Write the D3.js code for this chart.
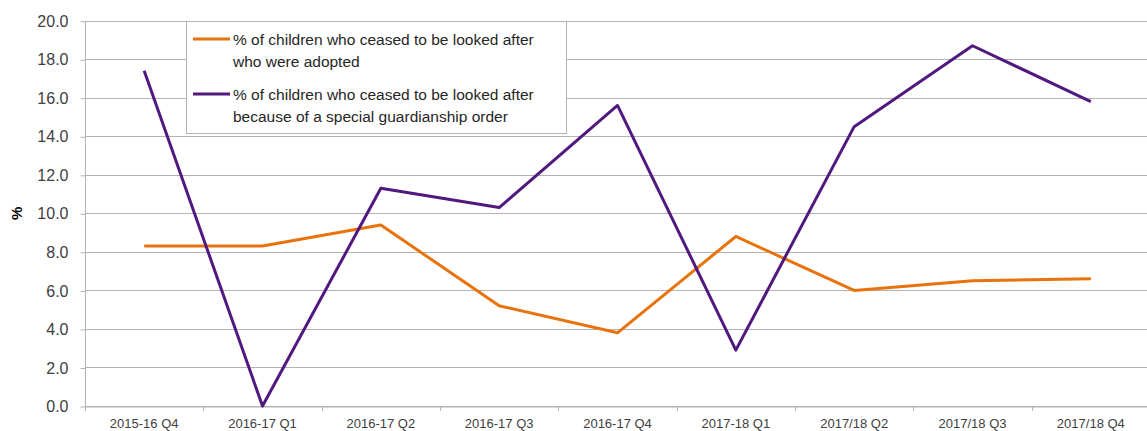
<!DOCTYPE html>
<html>
<head>
<meta charset="utf-8">
<script src="https://cdn.jsdelivr.net/npm/d3@7"></script>
<style>
  body { margin: 0; background: #fff; }
  text { font-family: "Liberation Sans", Arial, sans-serif; fill: #404040; }
</style>
</head>
<body>
<div id="chart"></div>
<script>
// quarters along the bottom
var quarters = ["2015-16 Q4", "2016-17 Q1", "2016-17 Q2", "2016-17 Q3", "2016-17 Q4",
                "2017-18 Q1", "2017/18 Q2", "2017/18 Q3", "2017/18 Q4"];

// % ceased to be looked after: adopted / special guardianship order
var adopted = [8.3, 8.3, 9.4, 5.2, 3.8, 8.8, 6.0, 6.5, 6.6];
var sgo = [17.4, 0.0, 11.3, 10.3, 15.6, 2.9, 14.5, 18.7, 15.8];

var yTicks = [0, 2, 4, 6, 8, 10, 12, 14, 16, 18, 20];

var seriesNames = ["% of children who ceased to be looked after|who were adopted",
                   "% of children who ceased to be looked after|because of a special guardianship order"];
var seriesColors = ["#e8730c", "#51197f"];

var width = 1147,
    height = 431;
// plot area edges (note: "top" is taken by window.top)
var plotLeft = 85, plotRight = 1150, plotTop = 20.7, plotBottom = 406;

var svg = d3.select("#chart").append("svg")
  .attr("width", width)
  .attr("height", height);

var x = d3.scaleBand().domain(quarters).range([plotLeft, plotRight]);
var y = d3.scaleLinear().domain([0, 20]).range([plotBottom, plotTop]);

// gridlines
svg.append("g")
  .selectAll("line")
  .data(yTicks)
  .enter().append("line")
  .attr("x1", plotLeft)
  .attr("x2", plotRight)
  .attr("y1", function(d) { return Math.round(y(d)) + 0.5; })
  .attr("y2", function(d) { return Math.round(y(d)) + 0.5; })
  .attr("stroke", "#b3b3b3")
  .attr("stroke-width", 1);

// y axis
var yAxis = svg.append("g")
  .attr("transform", "translate(" + (plotLeft + 0.5) + ",0.5)")
  .call(d3.axisLeft(y).tickValues(yTicks).tickFormat(d3.format(".1f")).tickSize(5).tickPadding(12));
yAxis.select(".domain").attr("stroke", "#b3b3b3").attr("d", "M0," + plotTop + "V" + plotBottom);
yAxis.selectAll(".tick line").attr("stroke", "#b3b3b3");
yAxis.selectAll(".tick text").style("font-size", "16px").attr("fill", "#404040");

// x axis
var xAxis = svg.append("g")
  .attr("transform", "translate(0," + (Math.round(plotBottom) + 0.5) + ")")
  .call(d3.axisBottom(x).tickSize(0).tickPadding(12));
xAxis.select(".domain").attr("stroke", "#b3b3b3");
xAxis.selectAll(".tick text").style("font-size", "13px").attr("fill", "#404040");

// tick marks at band edges
var edges = quarters.map(function(q) { return x(q); }).concat([plotRight]);
svg.append("g")
  .selectAll("line")
  .data(edges)
  .enter().append("line")
  .attr("x1", function(d) { return Math.round(d) + 0.5; })
  .attr("x2", function(d) { return Math.round(d) + 0.5; })
  .attr("y1", plotBottom)
  .attr("y2", plotBottom + 5)
  .attr("stroke", "#b3b3b3");

// y label
svg.append("text")
  .attr("transform", "translate(22," + ((plotTop + plotBottom) / 2) + ") rotate(-90)")
  .attr("text-anchor", "middle")
  .style("font-size", "15px")
  .style("font-weight", "bold")
  .style("fill", "#000")
  .text("%");

// lines
var line = d3.line()
  .x(function(d, i) { return x(quarters[i]) + x.bandwidth() / 2; })
  .y(function(d) { return y(d); });

[adopted, sgo].forEach(function(values, i) {
  svg.append("path")
    .datum(values)
    .attr("d", line)
    .attr("fill", "none")
    .attr("stroke", seriesColors[i])
    .attr("stroke-width", 3)
    .attr("stroke-linejoin", "round");
});

// legend
var legend = svg.append("g");
legend.append("rect")
  .attr("x", 186.5)
  .attr("y", 21.5)
  .attr("width", 380)
  .attr("height", 112)
  .attr("fill", "#fff")
  .attr("stroke", "#b3b3b3");

var legendY = [39, 94];
seriesNames.forEach(function(name, i) {
  legend.append("line")
    .attr("x1", 193)
    .attr("x2", 230)
    .attr("y1", legendY[i])
    .attr("y2", legendY[i])
    .attr("stroke", seriesColors[i])
    .attr("stroke-width", 3);
  var parts = name.split("|");
  parts.forEach(function(p, j) {
    legend.append("text")
      .attr("x", 233)
      .attr("y", legendY[i] + 6 + j * 22)
      .style("font-size", "15.5px")
      .style("fill", "#262626")
      .text(p);
  });
});
</script>
</body>
</html>
